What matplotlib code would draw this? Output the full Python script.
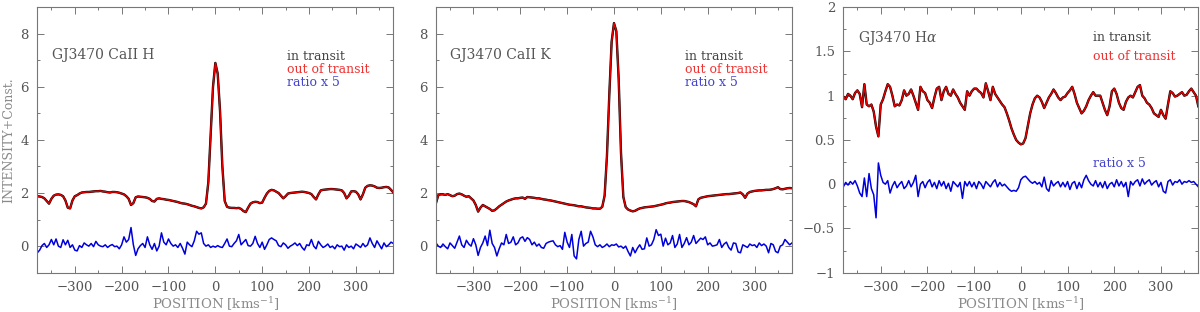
import matplotlib
matplotlib.use("Agg")
import matplotlib.pyplot as plt
import numpy as np
from matplotlib.ticker import MultipleLocator, FuncFormatter

# velocity grid of all spectra (km/s)
velocity = np.arange(-380, 381, 5)

# CaII H: mean spectrum (in / out of transit overlap) and ratio x 5
cah_flux = [
    1.88, 1.87, 1.85, 1.80, 1.70, 1.60, 1.78, 1.90, 1.94, 1.95,
    1.93, 1.88, 1.72, 1.45, 1.42, 1.72, 1.88, 1.92, 1.98, 2.02,
    2.03, 2.04, 2.04, 2.05, 2.06, 2.07, 2.07, 2.08, 2.06, 2.05,
    2.03, 2.02, 2.04, 2.04, 2.03, 2.01, 1.98, 1.95, 1.88, 1.78,
    1.55, 1.62, 1.84, 1.87, 1.86, 1.85, 1.84, 1.82, 1.78, 1.70,
    1.68, 1.78, 1.80, 1.78, 1.77, 1.75, 1.74, 1.72, 1.70, 1.68,
    1.66, 1.63, 1.61, 1.60, 1.58, 1.55, 1.52, 1.50, 1.47, 1.44,
    1.42, 1.46, 1.60, 2.40, 4.20, 6.00, 6.90, 6.50, 5.10, 3.00,
    1.70, 1.48, 1.45, 1.44, 1.44, 1.43, 1.44, 1.40, 1.32, 1.28,
    1.45, 1.60, 1.65, 1.67, 1.66, 1.62, 1.64, 1.82, 1.98, 2.08,
    2.12, 2.10, 2.05, 2.00, 1.90, 1.80, 1.88, 1.98, 2.00, 2.01,
    2.02, 2.03, 2.04, 2.05, 2.04, 2.02, 2.00, 1.96, 1.85, 1.76,
    1.95, 2.10, 2.12, 2.13, 2.14, 2.15, 2.15, 2.14, 2.13, 2.12,
    2.10, 2.00, 1.80, 1.90, 2.06, 2.07, 2.05, 1.95, 1.76, 1.95,
    2.20, 2.27, 2.29, 2.28, 2.25, 2.20, 2.19, 2.20, 2.22, 2.23,
    2.21, 2.12, 2.02]
cah_ratio = [
    -0.25, -0.15, 0.02, 0.10, -0.05, 0.05, 0.25, 0.05, 0.27, 0.00,
    -0.05, 0.24, 0.05, 0.22, -0.05, 0.05, -0.15, -0.18, 0.02, -0.05,
    0.12, 0.05, 0.00, 0.10, -0.02, 0.18, 0.05, 0.00, -0.02, 0.05,
    -0.05, 0.02, 0.06, -0.02, 0.00, -0.10, 0.05, 0.35, 0.15, 0.25,
    0.70, 0.05, -0.35, -0.10, 0.02, 0.10, -0.05, 0.35, 0.05, -0.12,
    0.10, -0.18, 0.00, 0.50, 0.15, 0.05, 0.27, 0.10, 0.00, 0.05,
    -0.05, 0.10, -0.08, -0.30, 0.15, 0.05, -0.02, 0.20, 0.56, 0.45,
    0.50, 0.10, 0.00, 0.05, -0.05, 0.00, -0.04, 0.02, -0.03, -0.05,
    0.10, 0.27, 0.00, -0.02, 0.10, 0.20, 0.44, 0.05, 0.15, 0.25,
    0.02, 0.00, 0.10, 0.37, 0.10, -0.05, 0.15, -0.12, 0.05, 0.25,
    0.31, 0.25, 0.20, 0.02, -0.02, 0.12, 0.05, -0.08, 0.00, 0.05,
    0.12, 0.02, 0.10, -0.05, -0.15, 0.05, 0.02, 0.25, 0.00, -0.10,
    0.18, 0.05, -0.05, 0.00, 0.08, -0.05, 0.00, -0.10, 0.05, -0.02,
    0.00, -0.15, 0.05, -0.05, 0.00, -0.10, 0.08, 0.02, -0.05, 0.10,
    -0.02, 0.05, 0.31, 0.10, -0.05, 0.20, 0.05, -0.10, 0.12, -0.02,
    0.05, 0.15, 0.10]

# CaII K
cak_flux = [
    1.62, 1.92, 1.95, 1.95, 1.93, 1.96, 1.92, 1.88, 1.90, 1.96,
    1.98, 1.95, 1.90, 1.86, 1.88, 1.80, 1.72, 1.55, 1.30, 1.45,
    1.55, 1.50, 1.45, 1.40, 1.33, 1.35, 1.42, 1.50, 1.56, 1.62,
    1.68, 1.72, 1.75, 1.78, 1.80, 1.80, 1.82, 1.83, 1.78, 1.85,
    1.84, 1.83, 1.82, 1.80, 1.80, 1.78, 1.76, 1.75, 1.73, 1.72,
    1.70, 1.68, 1.66, 1.64, 1.62, 1.60, 1.58, 1.56, 1.55, 1.54,
    1.52, 1.50, 1.50, 1.48, 1.46, 1.45, 1.44, 1.42, 1.42, 1.41,
    1.41, 1.48, 1.90, 3.40, 5.70, 7.70, 8.40, 8.10, 6.30, 3.50,
    1.85, 1.47, 1.38, 1.34, 1.31, 1.33, 1.38, 1.42, 1.44, 1.46,
    1.47, 1.48, 1.49, 1.50, 1.52, 1.54, 1.56, 1.58, 1.61, 1.63,
    1.64, 1.66, 1.67, 1.68, 1.69, 1.70, 1.70, 1.68, 1.66, 1.62,
    1.58, 1.50, 1.76, 1.82, 1.84, 1.86, 1.88, 1.89, 1.90, 1.91,
    1.92, 1.93, 1.94, 1.95, 1.96, 1.96, 1.97, 1.98, 1.99, 2.00,
    2.02, 1.95, 1.82, 1.98, 2.04, 2.06, 2.08, 2.09, 2.10, 2.10,
    2.11, 2.12, 2.12, 2.13, 2.15, 2.18, 2.22, 2.15, 2.14, 2.16,
    2.18, 2.19, 2.18]
cak_ratio = [
    0.12, 0.00, -0.05, 0.08, -0.02, -0.10, 0.12, 0.02, -0.08, 0.15,
    0.38, 0.05, -0.05, 0.22, 0.08, 0.00, 0.28, 0.05, -0.35, -0.05,
    0.12, 0.38, 0.02, 0.60, 0.10, -0.05, -0.37, -0.10, 0.12, 0.05,
    0.44, 0.10, 0.15, 0.35, 0.05, 0.12, 0.30, 0.35, 0.18, 0.32,
    0.25, 0.05, 0.15, 0.00, 0.08, -0.05, -0.08, 0.10, 0.15, 0.18,
    0.20, 0.05, -0.02, 0.02, -0.12, 0.52, 0.15, -0.05, 0.44, -0.37,
    -0.48, 0.25, 0.56, 0.00, 0.10, 0.15, 0.56, 0.35, 0.05, -0.02,
    0.05, -0.05, 0.00, 0.08, -0.02, 0.05, 0.03, 0.08, -0.03, 0.00,
    -0.08, 0.00, -0.20, -0.37, -0.05, -0.25, -0.08, 0.05, -0.12, -0.10,
    0.31, 0.00, 0.05, 0.25, 0.62, 0.40, 0.45, 0.00, 0.30, 0.05,
    0.12, 0.40, -0.05, 0.08, 0.44, -0.05, 0.10, 0.32, 0.05, 0.15,
    0.40, 0.10, 0.20, 0.30, 0.25, 0.35, 0.05, 0.12, 0.00, 0.02,
    0.05, 0.25, -0.05, 0.08, 0.15, -0.05, -0.15, 0.12, 0.10, -0.22,
    -0.25, 0.05, 0.00, -0.05, 0.08, 0.02, 0.05, -0.05, 0.12, 0.02,
    0.08, 0.00, -0.25, 0.10, 0.05, -0.20, -0.25, 0.00, 0.05, 0.25,
    0.15, 0.05, 0.12]

# H alpha
ha_flux = [
    0.99, 0.96, 1.02, 1.00, 0.96, 1.03, 1.06, 1.02, 0.87, 1.13,
    0.90, 0.88, 0.90, 0.82, 0.65, 0.54, 0.90, 0.96, 1.05, 1.13,
    1.10, 1.00, 0.88, 0.90, 0.89, 0.95, 1.06, 1.00, 1.02, 1.07,
    1.00, 0.92, 0.84, 1.10, 1.05, 1.03, 0.95, 0.92, 0.86, 0.98,
    1.08, 1.10, 0.95, 1.05, 1.10, 1.02, 1.00, 1.07, 1.02, 0.98,
    0.92, 0.88, 0.84, 1.05, 1.00, 1.05, 1.08, 1.08, 1.05, 1.03,
    0.98, 1.14, 1.05, 0.95, 1.10, 1.02, 0.98, 0.94, 0.90, 0.87,
    0.80, 0.72, 0.63, 0.56, 0.50, 0.47, 0.45, 0.46, 0.52, 0.66,
    0.80, 0.90, 0.97, 1.00, 0.98, 0.93, 0.86, 0.92, 0.98, 1.02,
    1.07, 1.03, 0.98, 0.95, 0.98, 0.99, 1.03, 1.06, 1.10, 1.02,
    0.92, 0.86, 0.80, 0.83, 0.88, 0.95, 1.00, 1.04, 1.00, 1.00,
    1.00, 0.92, 0.84, 0.78, 0.88, 1.05, 1.08, 1.02, 0.92, 0.86,
    0.84, 0.93, 0.98, 1.00, 0.98, 1.04, 1.10, 1.12, 1.00, 0.97,
    0.92, 0.90, 0.86, 0.80, 0.78, 0.76, 0.84, 0.78, 0.74, 0.90,
    1.05, 1.03, 0.99, 1.00, 1.02, 1.04, 1.00, 1.01, 1.05, 1.08,
    1.04, 1.00, 0.88]
ha_ratio = [
    -0.03, 0.02, -0.01, 0.03, 0.00, 0.04, -0.02, -0.10, -0.14, 0.07,
    -0.14, 0.12, -0.05, -0.12, -0.38, 0.24, 0.10, 0.02, 0.00, 0.04,
    -0.10, -0.02, 0.03, -0.04, 0.00, 0.03, -0.05, -0.02, 0.04, -0.03,
    0.02, 0.10, -0.14, 0.00, 0.03, -0.04, 0.02, 0.05, -0.03, 0.02,
    -0.05, 0.04, -0.02, 0.03, -0.05, 0.01, -0.08, 0.03, 0.00, -0.03,
    0.02, -0.16, 0.03, -0.02, 0.03, -0.03, 0.02, -0.05, 0.03, 0.00,
    -0.05, 0.03, 0.00, -0.03, 0.02, 0.05, -0.03, 0.02, -0.02, 0.00,
    -0.03, -0.06, -0.08, -0.07, -0.08, -0.04, 0.05, 0.08, 0.09, 0.06,
    0.03, 0.01, 0.03, 0.00, 0.02, -0.03, 0.08, -0.05, -0.08, 0.04,
    -0.02, 0.01, 0.03, -0.03, 0.02, -0.03, 0.03, -0.06, 0.01, 0.03,
    -0.05, 0.02, -0.04, 0.05, 0.10, 0.04, 0.00, -0.02, 0.04, -0.03,
    0.02, -0.04, 0.03, -0.05, 0.00, 0.02, -0.03, 0.05, -0.02, 0.03,
    -0.03, 0.02, -0.14, 0.03, -0.01, 0.03, 0.05, -0.02, 0.06, 0.00,
    0.03, 0.05, -0.01, 0.02, 0.04, -0.03, 0.02, -0.08, -0.10, 0.03,
    0.05, -0.01, 0.03, 0.02, 0.05, 0.00, 0.03, 0.02, 0.04, 0.02,
    0.03, 0.00, -0.03]

titles = ["GJ3470 CaII H", "GJ3470 CaII K", "GJ3470 H$\\alpha$"]

plt.rcParams["font.family"] = "DejaVu Serif"
plt.rcParams["mathtext.fontset"] = "dejavuserif"

TEXT = "#555555"
LIGHT = "#8a8a8a"


def minus_fmt(v, pos):
    return ("%g" % v).replace("-", "\u2212")


def setup_axes(ax, ylim, major, minor):
    ax.set_xlim(-380, 380)
    ax.set_ylim(*ylim)
    ax.xaxis.set_major_locator(MultipleLocator(100))
    ax.xaxis.set_minor_locator(MultipleLocator(50))
    ax.yaxis.set_major_locator(MultipleLocator(major))
    ax.yaxis.set_minor_locator(MultipleLocator(minor))
    ax.xaxis.set_major_formatter(FuncFormatter(minus_fmt))
    ax.yaxis.set_major_formatter(FuncFormatter(minus_fmt))
    ax.tick_params(which="both", direction="in", top=True, right=True,
                   color="#777777", labelcolor=TEXT, labelsize=9.5, width=0.7)
    ax.tick_params(which="major", length=5, pad=6)
    ax.tick_params(which="minor", length=2.5)
    for sp in ax.spines.values():
        sp.set_color("#777777")
        sp.set_linewidth(0.8)
    ax.set_xlabel("POSITION [kms$^{-1}$]", color=LIGHT, fontsize=9.5, labelpad=1)


def draw_panel(ax, flux, ratio):
    # in transit and out of transit are on top of each other at this scale
    ax.plot(velocity, flux, color="black", lw=1.7)
    ax.plot(velocity, flux, color="#e00000", lw=1.1)
    ax.plot(velocity, ratio, color="#0000dd", lw=1.1)


fig = plt.figure(figsize=(12, 3.12), dpi=100)
ax1 = fig.add_axes([0.0311, 0.126, 0.2967, 0.851])
ax2 = fig.add_axes([0.3633, 0.126, 0.2967, 0.851])
ax3 = fig.add_axes([0.7028, 0.126, 0.2958, 0.851])

draw_panel(ax1, cah_flux, cah_ratio)
draw_panel(ax2, cak_flux, cak_ratio)
draw_panel(ax3, ha_flux, ha_ratio)

setup_axes(ax1, (-1, 9), 2, 1)
setup_axes(ax2, (-1, 9), 2, 1)
setup_axes(ax3, (-1, 2), 0.5, 0.25)
ax1.set_ylabel("INTENSITY+Const.", color=LIGHT, fontsize=9, labelpad=4)

# panel labels and legend text
for ax, title in zip([ax1, ax2], titles[:2]):
    ax.text(0.04, 0.82, title, transform=ax.transAxes, color=TEXT,
            fontsize=10, va="center")
    ax.text(0.70, 0.813, "in transit", transform=ax.transAxes, color="#444444",
            fontsize=9, va="center")
    ax.text(0.70, 0.764, "out of transit", transform=ax.transAxes, color="#ee3333",
            fontsize=9, va="center")
    ax.text(0.70, 0.715, "ratio x 5", transform=ax.transAxes, color="#4444cc",
            fontsize=9, va="center")

ax3.text(0.041, 0.884, titles[2], transform=ax3.transAxes, color=TEXT,
         fontsize=10, va="center")
ax3.text(0.703, 0.884, "in transit", transform=ax3.transAxes, color="#444444",
         fontsize=9, va="center")
ax3.text(0.703, 0.813, "out of transit", transform=ax3.transAxes, color="#ee3333",
         fontsize=9, va="center")
ax3.text(0.703, 0.413, "ratio x 5", transform=ax3.transAxes, color="#4444cc",
         fontsize=9, va="center")

fig.savefig("out.png", dpi=100)
